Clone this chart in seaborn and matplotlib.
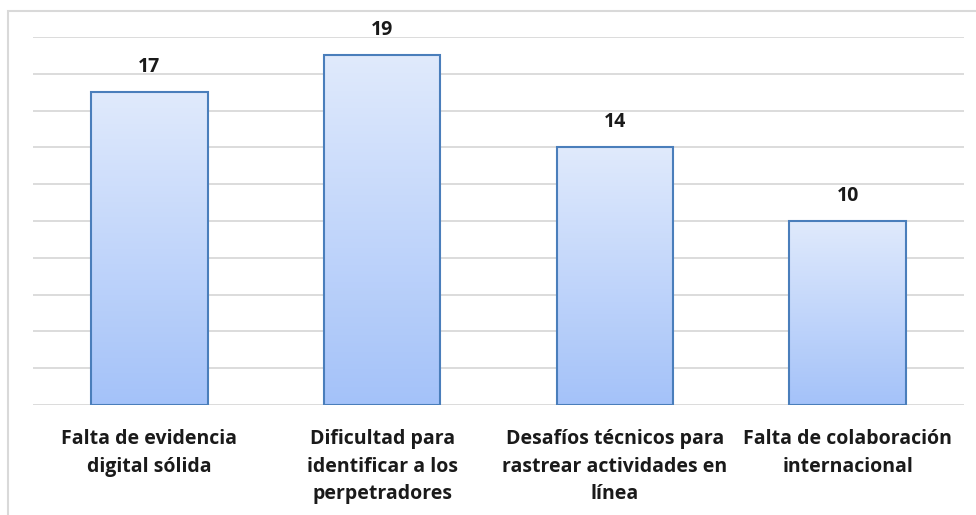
import numpy as np
import pandas as pd
import matplotlib
matplotlib.use("Agg")
import matplotlib.pyplot as plt
from matplotlib.colors import LinearSegmentedColormap
from matplotlib.patches import Rectangle
import seaborn as sns

categorias = [
    "Falta de evidencia\ndigital sólida",
    "Dificultad para\nidentificar a los\nperpetradores",
    "Desafíos técnicos para\nrastrear actividades en\nlínea",
    "Falta de colaboración\ninternacional",
]
valores = [17, 19, 14, 10]

sns.set_style("white")
plt.rcParams["font.family"] = ["Open Sans", "DejaVu Sans"]

fig = plt.figure(figsize=(9.76, 5.15), dpi=100)
ax = fig.add_axes([33 / 976, 1 - 405 / 515, (964 - 33) / 976, (405 - 37) / 515])

df = pd.DataFrame({"categoria": categorias, "valor": valores})
sns.barplot(data=df, x="categoria", y="valor", ax=ax, width=0.5,
            color="#c9dbfb", edgecolor="#4a7ebb", linewidth=1.5, zorder=2)

# vertical gradient fill clipped to each bar
cmap = LinearSegmentedColormap.from_list("grad", ["#a4c2f9", "#e0eafc"])
grad = np.linspace(0, 1, 256).reshape(-1, 1)
for p in ax.patches:
    x0, y0 = p.get_x(), p.get_y()
    w, h = p.get_width(), p.get_height()
    im = ax.imshow(grad, cmap=cmap, origin="lower", aspect="auto",
                   extent=[x0, x0 + w, y0, y0 + h], zorder=2.5)
    im.set_clip_path(p)
    p.set_facecolor("none")
    p.set_zorder(3)

for i, v in enumerate(valores):
    ax.annotate(f"{v}", (i, v), xytext=(0, 11), textcoords="offset points",
                ha="center", va="bottom", fontsize=14, fontweight="bold",
                color="#1a1a1a")

ax.set_xlim(-0.5, 3.5)
ax.set_ylim(0, 20)
ax.set_yticks(np.arange(0, 21, 2))
ax.yaxis.grid(True, color="#d9d9d9", linewidth=1.3, zorder=0)
ax.set_axisbelow(True)
ax.tick_params(axis="y", left=False, labelleft=False)
ax.tick_params(axis="x", bottom=False, pad=14)
for lbl in ax.get_xticklabels():
    lbl.set_fontsize(14)
    lbl.set_fontweight("bold")
    lbl.set_color("#1a1a1a")
    lbl.set_linespacing(1.5)
ax.set_xlabel("")
ax.set_ylabel("")
for s in ax.spines.values():
    s.set_visible(False)

# outer chart frame
fig.patches.append(Rectangle((8 / 976, -0.05), 1.1, 1 - 11 / 515 + 0.05,
                             transform=fig.transFigure, fill=False,
                             edgecolor="#d9d9d9", linewidth=1.5))

fig.savefig("out.png", dpi=100, facecolor="white")
